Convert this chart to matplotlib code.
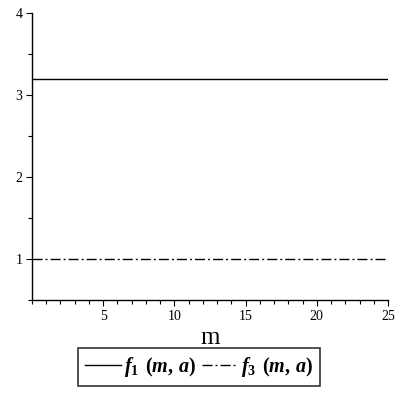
import matplotlib
matplotlib.use("Agg")
import matplotlib.pyplot as plt
from matplotlib.ticker import MultipleLocator

plt.rcParams['mathtext.fontset'] = 'custom'
plt.rcParams['mathtext.rm'] = 'Liberation Serif:bold'
plt.rcParams['mathtext.it'] = 'Liberation Serif:italic:bold'
plt.rcParams['mathtext.bf'] = 'Liberation Serif:bold'

# data
m_vals = [0, 25]
f1_vals = [3.2, 3.2]
f3_vals = [1.0, 1.0]
labels = [r"$f_{1}\;\,(m,\,a)$", r"$f_{3}\;\,(m,\,a)$"]

fig = plt.figure(figsize=(4, 4), dpi=100)
ax = fig.add_axes([0.08, 0.25, 0.89, 0.7175])

ax.plot(m_vals, f1_vals, color='black', linewidth=1.0, linestyle='-', label=labels[0])
ax.plot(m_vals, f3_vals, color='black', linewidth=1.0, linestyle=(0, (7.2, 2.2, 1.4, 2.2)), label=labels[1])

ax.set_xlim(0, 25)
ax.set_ylim(0.5, 4)
ax.spines['top'].set_visible(False)
ax.spines['right'].set_visible(False)
ax.spines['left'].set_linewidth(1.0)
ax.spines['bottom'].set_linewidth(1.0)

ax.xaxis.set_major_locator(MultipleLocator(5))
ax.xaxis.set_minor_locator(MultipleLocator(1))
ax.yaxis.set_major_locator(MultipleLocator(1))
ax.yaxis.set_minor_locator(MultipleLocator(0.5))
ax.tick_params(which='major', length=4, width=0.8, direction='out', labelsize=10, pad=3)
ax.tick_params(which='minor', length=3, width=0.8, direction='out')
ax.set_xticks([5, 10, 15, 20, 25])
for lab in ax.get_xticklabels() + ax.get_yticklabels():
    lab.set_fontfamily('Liberation Serif')

ax.set_xlabel("m", fontsize=18, fontfamily='Liberation Serif', labelpad=3)

leg = fig.legend(loc='center', bbox_to_anchor=(0.4975, 0.0825), ncol=2, fontsize=14.5,
                 frameon=True, fancybox=False, handlelength=1.8, handletextpad=0.15,
                 columnspacing=0.3, borderpad=0.35)
leg.get_frame().set_edgecolor('black')
leg.get_frame().set_linewidth(1.2)

fig.savefig("out.png", dpi=100)
